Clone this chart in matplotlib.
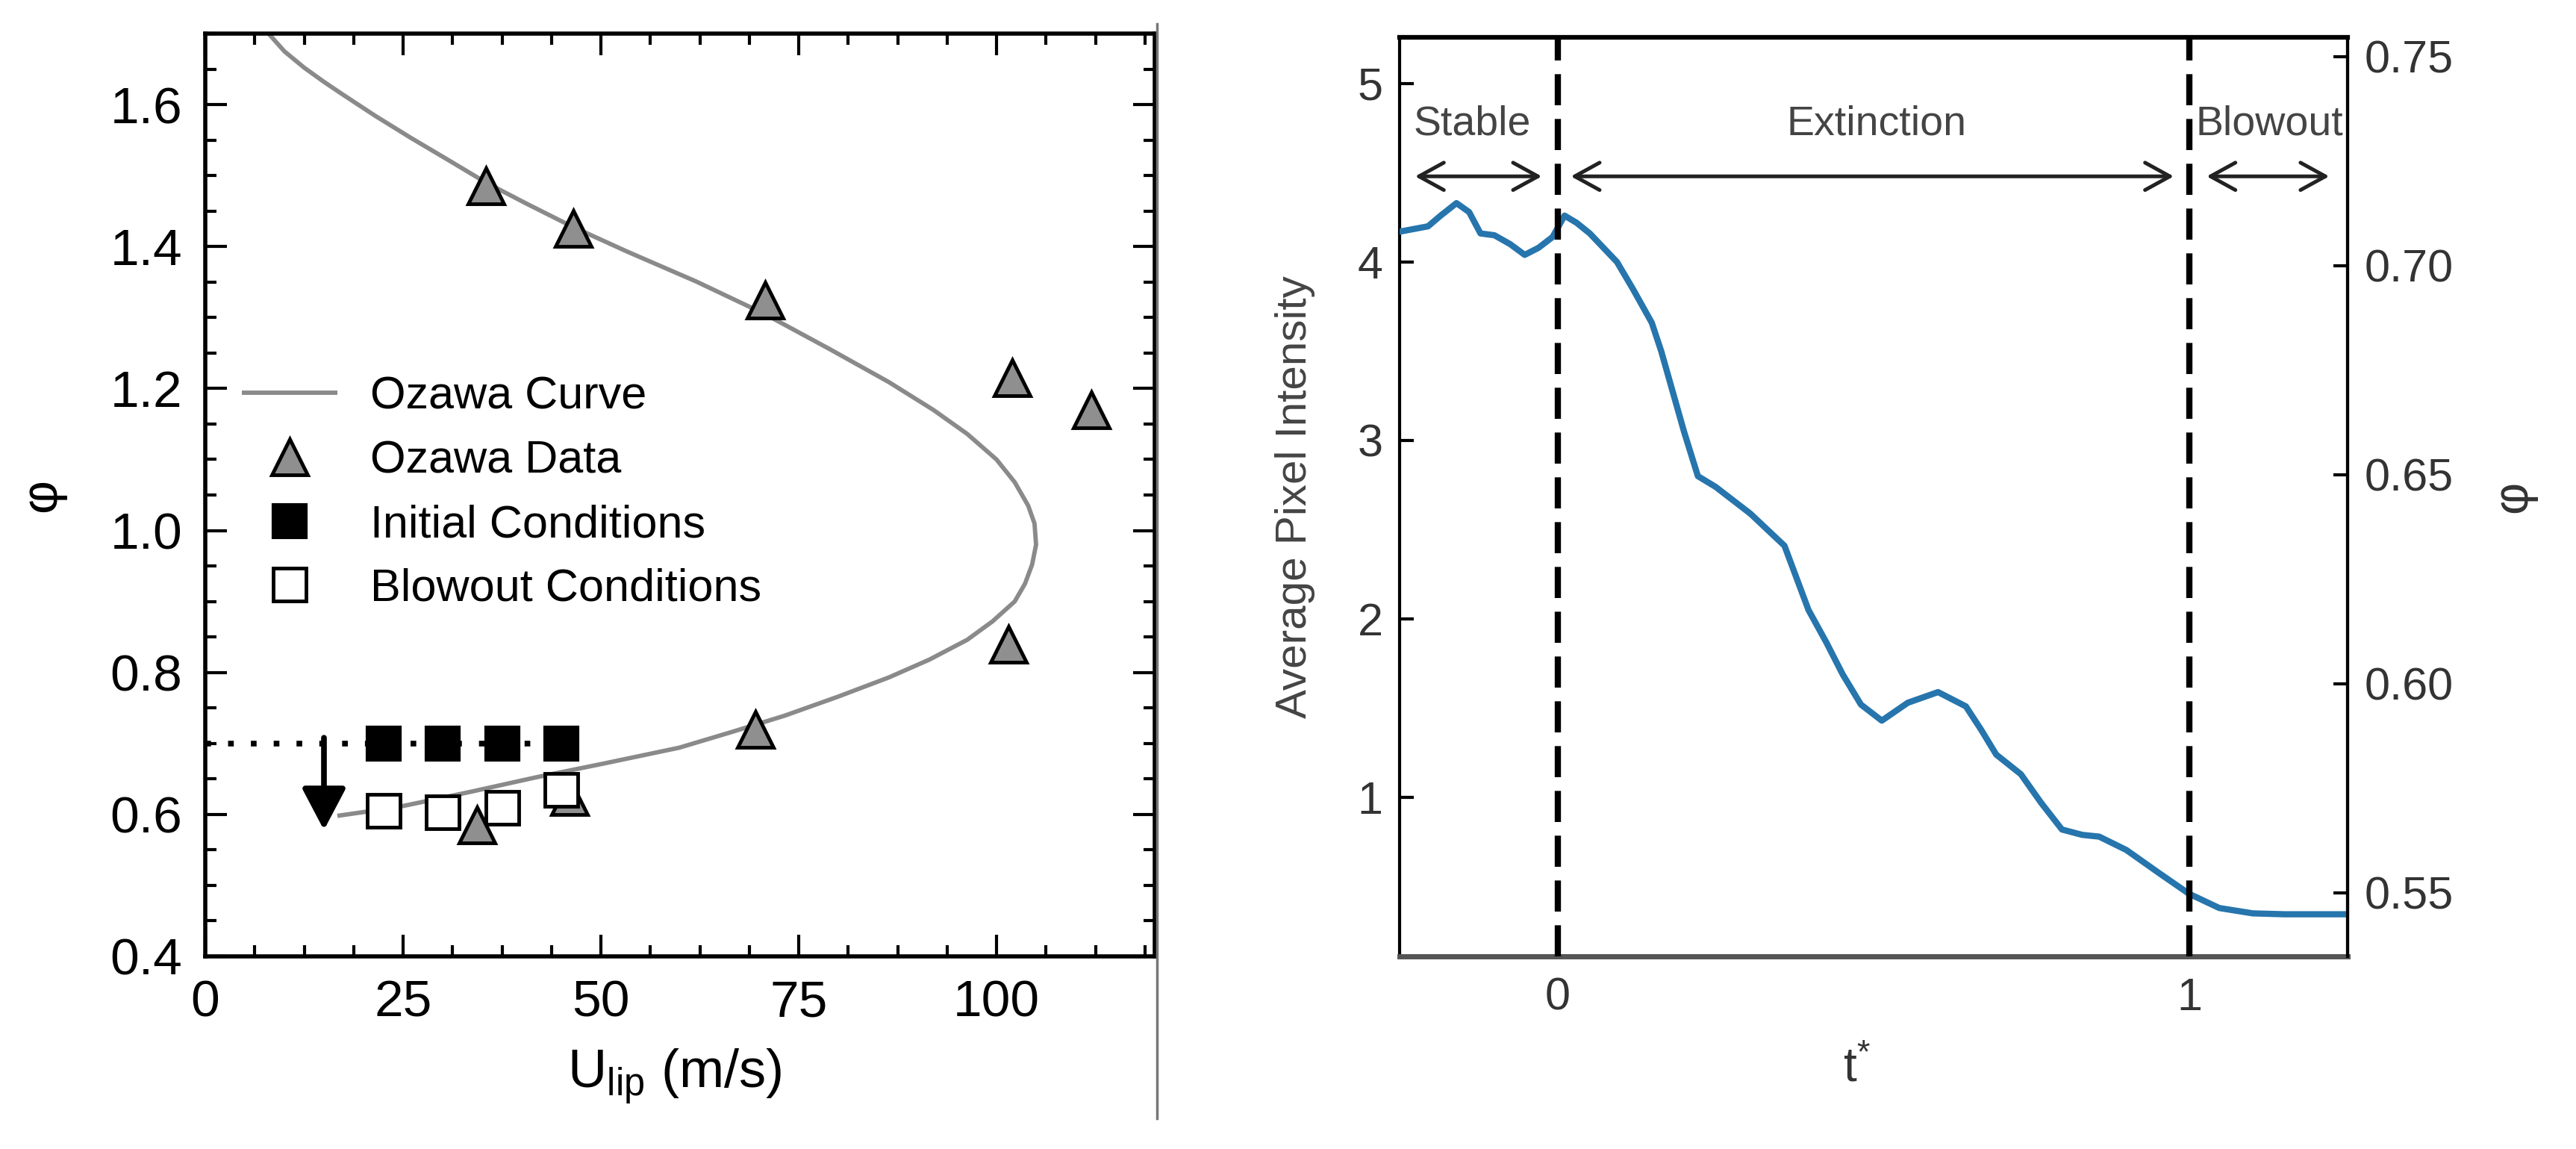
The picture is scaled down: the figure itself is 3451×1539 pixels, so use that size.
import numpy as np
import matplotlib
matplotlib.use('Agg')
import matplotlib.pyplot as plt
from matplotlib.lines import Line2D
from matplotlib.ticker import MultipleLocator, FormatStrFormatter

plt.rcParams['font.family'] = ['Liberation Sans', 'DejaVu Sans']
plt.rcParams['mathtext.fontset'] = 'custom'
plt.rcParams['mathtext.rm'] = 'Liberation Sans'
plt.rcParams['mathtext.it'] = 'Liberation Sans'

# ---- left panel: blowout map (phi vs U_lip) ----
curve_u = [7.0, 8.0, 10.0, 12.5, 15.0, 17.4, 21.5, 26.0, 31.0, 35.5, 40.5,
           46.4, 53.3, 62.0, 70.7, 79.0, 86.4, 92.0, 96.3, 100.0, 102.3,
           104.0, 104.8, 105.0, 104.5, 103.6, 102.3, 99.5, 96.3, 91.5, 86.4,
           80.0, 73.2, 66.5, 59.9, 50.5, 41.7, 33.6, 24.2, 16.7]
curve_phi = [1.715, 1.70, 1.675, 1.652, 1.632, 1.614, 1.584, 1.553, 1.52,
             1.49, 1.461, 1.428, 1.393, 1.351, 1.305, 1.255, 1.209, 1.17,
             1.136, 1.10, 1.068, 1.035, 1.01, 0.98, 0.952, 0.925, 0.90, 0.872,
             0.846, 0.818, 0.793, 0.766, 0.739, 0.716, 0.694, 0.672, 0.652,
             0.632, 0.61, 0.598]

ozawa_u = [35.5, 46.5, 70.8, 102.0, 112.0, 101.5, 69.5, 34.3, 46.0]
ozawa_phi = [1.485, 1.425, 1.325, 1.215, 1.17, 0.84, 0.72, 0.585, 0.625]

init_u = [22.5, 30.0, 37.5, 45.0]
init_phi = [0.70, 0.70, 0.70, 0.70]
blow_u = [22.5, 30.0, 37.5, 45.0]
blow_phi = [0.605, 0.603, 0.609, 0.635]

# ---- right panel: pixel intensity vs t* ----
t_star = [-0.25, -0.205, -0.185, -0.16, -0.14, -0.122, -0.10, -0.075, -0.052,
          -0.03, -0.008, 0.011, 0.03, 0.051, 0.094, 0.119, 0.149, 0.164, 0.20,
          0.222, 0.25, 0.305, 0.359, 0.397, 0.425, 0.451, 0.48, 0.513, 0.554,
          0.602, 0.646, 0.67, 0.694, 0.733, 0.765, 0.798, 0.83, 0.857, 0.90,
          0.95, 0.999, 1.047, 1.10, 1.15, 1.25]
intensity = [4.17, 4.20, 4.26, 4.33, 4.28, 4.16, 4.15, 4.10, 4.04, 4.08, 4.14,
             4.26, 4.22, 4.16, 4.00, 3.85, 3.66, 3.50, 3.05, 2.80, 2.74, 2.59,
             2.41, 2.05, 1.87, 1.69, 1.52, 1.43, 1.53, 1.59, 1.51, 1.38, 1.24,
             1.13, 0.97, 0.82, 0.79, 0.78, 0.705, 0.58, 0.46, 0.38, 0.35,
             0.345, 0.345]

region_names = ['Stable', 'Extinction', 'Blowout']
region_label_t = [-0.135, 0.505, 1.126]
region_spans = [(-0.2255, -0.025), (0.021, 0.975), (1.027, 1.221)]

W, H = 3451, 1539
fig = plt.figure(figsize=(W / 100, H / 100), dpi=100)


def rect(x0, y0, x1, y1):
    # pixel box (top-left origin) -> figure fraction
    return [x0 / W, 1 - y1 / H, (x1 - x0) / W, (y1 - y0) / H]


# ================= left panel =================
ax = fig.add_axes(rect(275, 45, 1547, 1281))
ax.plot(curve_u, curve_phi, color='#8a8a8a', lw=4.2, zorder=2,
        label='Ozawa Curve', solid_capstyle='butt', solid_joinstyle='round')
ax.plot([0, init_u[-1]], [init_phi[0], init_phi[0]], color='k', lw=5.5,
        dashes=(1.0, 3.0), dash_capstyle='butt', zorder=3)
ax.plot(ozawa_u, ozawa_phi, ls='none', marker='^', ms=34, mfc='#8f8f8f',
        mec='k', mew=3.5, zorder=4, label='Ozawa Data')
ax.plot(init_u, init_phi, ls='none', marker='s', ms=31, mfc='k', mec='k',
        mew=3, zorder=5, label='Initial Conditions')
ax.plot(blow_u, blow_phi, ls='none', marker='s', ms=31, mfc='white', mec='k',
        mew=3.5, zorder=5, label='Blowout Conditions')
ax.annotate('', xy=(15, 0.578), xytext=(15, 0.708),
            arrowprops=dict(arrowstyle='-|>,head_length=0.95,head_width=0.5',
                            lw=5.5, color='k', mutation_scale=36,
                            shrinkA=0, shrinkB=0), zorder=6)

ax.set_xlim(0, 120)
ax.set_ylim(0.4, 1.7)
ax.set_xticks([0, 25, 50, 75, 100])
ax.yaxis.set_major_locator(MultipleLocator(0.2))
ax.yaxis.set_major_formatter(FormatStrFormatter('%.1f'))
ax.xaxis.set_minor_locator(MultipleLocator(6.25))
ax.yaxis.set_minor_locator(MultipleLocator(0.05))
ax.tick_params(which='both', direction='in', top=True, right=True,
               labelsize=50, width=3, pad=22)
ax.tick_params(which='major', length=21)
ax.tick_params(which='minor', length=11)
for s in ax.spines.values():
    s.set_linewidth(4)

ax.set_ylabel('φ', fontsize=50, va='center')
ax.yaxis.set_label_coords(-0.172, 0.5)
ax.set_xlabel(r'U$_{\mathregular{lip}}$ (m/s)', fontsize=52, va='center')
ax.xaxis.set_label_coords(0.4945, -0.13)

ax.legend(loc='upper left', bbox_to_anchor=(0.0385, 0.629), frameon=False,
          fontsize=44, borderpad=0, borderaxespad=0, handlelength=2.1,
          handletextpad=0.72, labelspacing=0.47, numpoints=1)

# separator between panels
fig.add_artist(Line2D([1550 / W, 1550 / W], [1 - 32 / H, 1 - 1498 / H],
                      transform=fig.transFigure, color='#777777', lw=2.5))

# ================= right panel =================
ax2 = fig.add_axes(rect(1875, 50, 3145, 1281))
ax2.plot(t_star, intensity, color='#2675ad', lw=6, zorder=3,
         solid_joinstyle='round')
for tv in [0, 1]:
    ax2.axvline(tv, color='k', lw=6, dashes=(5, 2.2), dash_capstyle='butt',
                zorder=4)
for (t0, t1) in region_spans:
    ax2.annotate('', xy=(t1, 4.48), xytext=(t0, 4.48),
                 arrowprops=dict(arrowstyle='<->,head_length=0.4,head_width=0.22',
                                 lw=3.6, color='#222222', mutation_scale=60,
                                 shrinkA=0, shrinkB=0), zorder=5)
for name, tv in zip(region_names, region_label_t):
    ax2.text(tv, 4.77, name, ha='center', va='center', fontsize=40,
             color='#444444')

ax2.set_xlim(-0.25, 1.25)
ax2.set_ylim(0.109, 5.259)
ax2.set_xticks([0, 1])
ax2.set_yticks([1, 2, 3, 4, 5])
ax2.tick_params(direction='in', length=14, width=3, labelsize=44,
                labelcolor='#333333', pad=16)
ax2.tick_params(axis='x', length=0, pad=20)
for s in ax2.spines.values():
    s.set_linewidth(3)
ax2.spines['top'].set_linewidth(4.5)
ax2.spines['bottom'].set_linewidth(5)
ax2.spines['bottom'].set_color('#555555')

ax2.set_ylabel('Average Pixel Intensity', fontsize=42, color='#444444',
               va='center')
ax2.yaxis.set_label_coords(-0.110, 0.5)
ax2.set_xlabel(r'$\mathregular{t^{*}}$', fontsize=46, color='#333333',
               va='center')
ax2.xaxis.set_label_coords(0.482, -0.122)

axr = ax2.twinx()
axr.set_ylim(0.5348, 0.7546)
axr.set_yticks([0.55, 0.60, 0.65, 0.70, 0.75])
axr.yaxis.set_major_formatter(FormatStrFormatter('%.2f'))
axr.tick_params(direction='in', length=14, width=3, labelsize=44,
                labelcolor='#333333', pad=16)
for side in ['left', 'top', 'bottom']:
    axr.spines[side].set_visible(False)
axr.spines['right'].set_linewidth(3)
axr.set_ylabel('φ', fontsize=48, color='#333333', va='center', rotation=90)
axr.yaxis.set_label_coords(1.175, 0.5)

fig.savefig('out.png', dpi=100)
